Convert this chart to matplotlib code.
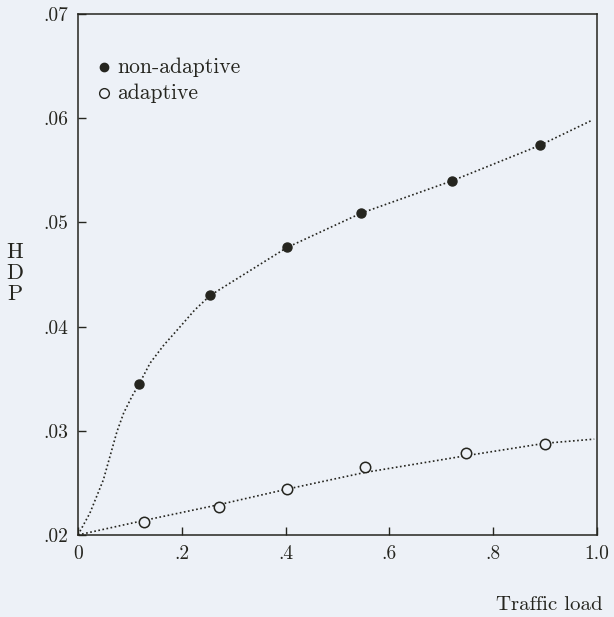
import numpy as np
import matplotlib
matplotlib.use("Agg")
import matplotlib.pyplot as plt

load_nonadaptive = [0.118, 0.255, 0.403, 0.546, 0.721, 0.890]
hdp_nonadaptive = [0.0345, 0.0430, 0.0476, 0.0509, 0.0540, 0.0574]

load_adaptive = [0.128, 0.271, 0.403, 0.553, 0.747, 0.900]
hdp_adaptive = [0.0212, 0.0227, 0.0244, 0.0265, 0.0279, 0.0287]

# fitted curves
curve_na_x = [0.0, 0.023, 0.049, 0.075, 0.088, 0.104, 0.118, 0.139, 0.165, 0.197,
              0.225, 0.255, 0.403, 0.546, 0.721, 0.890, 0.990]
curve_na_y = [0.0200, 0.0221, 0.0253, 0.0299, 0.0317, 0.0333, 0.0345, 0.0365, 0.0382, 0.0400,
              0.0416, 0.0430, 0.0476, 0.0509, 0.0540, 0.0574, 0.0598]

curve_a_x = [0.0, 0.128, 0.271, 0.403, 0.553, 0.747, 0.900, 0.995]
curve_a_y = [0.0200, 0.0214, 0.0229, 0.0244, 0.0260, 0.0276, 0.0288, 0.0292]

xticks = [0, 0.2, 0.4, 0.6, 0.8, 1.0]
xtick_labels = ["0", ".2", ".4", ".6", ".8", "1.0"]
yticks = [0.02, 0.03, 0.04, 0.05, 0.06, 0.07]
ytick_labels = [".02", ".03", ".04", ".05", ".06", ".07"]

plt.rcParams['font.family'] = ['cmr10', 'DejaVu Serif']
plt.rcParams['axes.unicode_minus'] = False

bg = "#edf1f7"
ink = "#25251f"

fig = plt.figure(figsize=(6.14, 6.17), dpi=100, facecolor=bg)
ax = fig.add_axes([0.127, 0.133, 0.845, 0.844])
ax.set_facecolor(bg)

ax.plot(curve_na_x, curve_na_y, color=ink, lw=1.2, ls=(0, (1, 1.5)))
ax.plot(curve_a_x, curve_a_y, color=ink, lw=1.2, ls=(0, (1, 1.5)))

ax.plot(load_nonadaptive, hdp_nonadaptive, 'o', ms=6.5, color=ink, mec=ink, ls='none')
ax.plot(load_adaptive, hdp_adaptive, 'o', ms=7.5, mfc=bg, mec=ink, mew=1.1, ls='none')

ax.set_xlim(0, 1.0)
ax.set_ylim(0.02, 0.07)
ax.set_xticks(xticks)
ax.set_xticklabels(xtick_labels)
ax.set_yticks(yticks)
ax.set_yticklabels(ytick_labels)
ax.tick_params(direction='in', length=6, width=1.0, color=ink, labelcolor=ink,
               labelsize=14, pad=7)
for s in ax.spines.values():
    s.set_color(ink)
    s.set_linewidth(1.1)

# legend drawn as in the original, markers followed by text
ax.plot([0.05], [0.0649], 'o', ms=6, color=ink, ls='none', clip_on=False)
ax.text(0.075, 0.0649, "non-adaptive", fontsize=15.5, color=ink, va='center')
ax.plot([0.05], [0.0624], 'o', ms=7, mfc=bg, mec=ink, mew=1.0, ls='none', clip_on=False)
ax.text(0.075, 0.0624, "adaptive", fontsize=15.5, color=ink, va='center')

fig.text(15 / 614, 1 - 252 / 617, "H", fontsize=16, color=ink, ha='center', va='center')
fig.text(15 / 614, 1 - 273 / 617, "D", fontsize=16, color=ink, ha='center', va='center')
fig.text(15 / 614, 1 - 294 / 617, "P", fontsize=16, color=ink, ha='center', va='center')

fig.text(549 / 614, 1 - 605 / 617, "Traffic load", fontsize=15, color=ink,
         ha='center', va='center')

fig.savefig("out.png", dpi=100, facecolor=bg)
